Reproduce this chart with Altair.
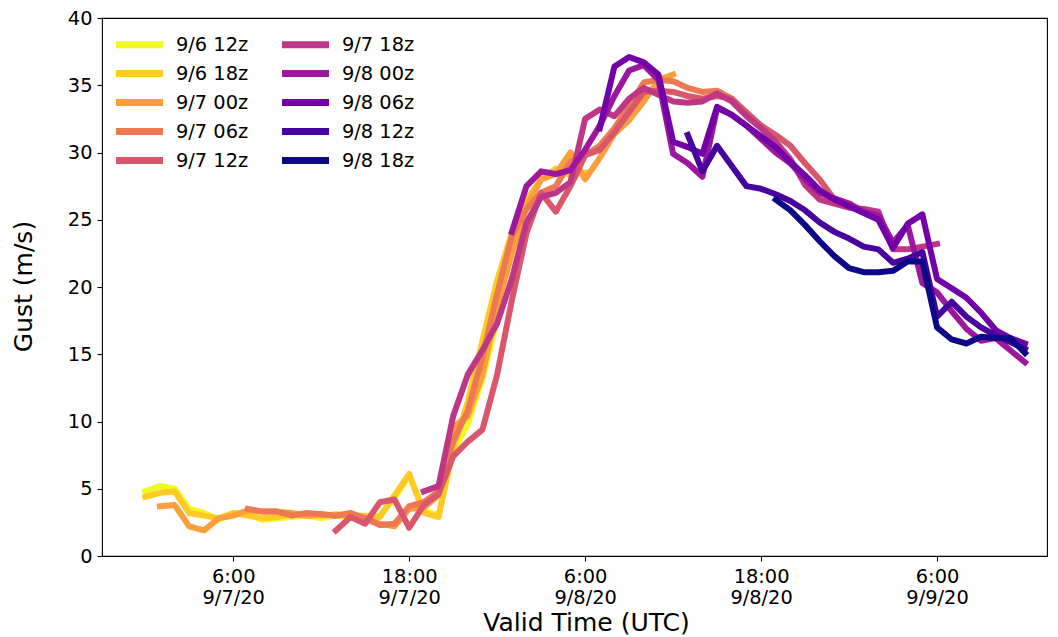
import altair as alt
import pandas as pd

# ---------------- data ----------------
runs = ["9/6 12z", "9/6 18z", "9/7 00z", "9/7 06z", "9/7 12z",
        "9/7 18z", "9/8 00z", "9/8 06z", "9/8 12z", "9/8 18z"]
colors = ["#f0f921", "#fdca26", "#fb9f3a", "#ed7953", "#d8576b",
          "#bd3786", "#9c179e", "#7201a8", "#46039f", "#0d0887"]
# first valid hour of each run (hours after 2020-09-07 00 UTC)
start_hours = [0, 0, 1, 7, 13, 19, 25, 31, 37, 43]

gust_0612 = [4.8, 5.2, 5.0, 3.5, 3.2, 2.7, 3.2, 3.1, 2.7, 2.8,
             2.9, 3.0, 2.8, 3.0, 2.9, 2.8, 3.0, 4.3, 6.0, 3.4,
             3.0, 7.8, 9.8, 13.2, 17.5]
gust_0618 = [4.4, 4.7, 4.8, 3.2, 3.0, 2.8, 3.2, 3.0, 2.8, 2.9,
             3.1, 3.0, 3.0, 3.1, 3.0, 3.0, 2.9, 4.5, 6.1, 3.2,
             2.9, 8.0, 11.5, 16.0, 20.5, 24.0, 26.5, 28.0, 28.8, 28.3,
             28.5]
gust_0700 = [3.7, 3.8, 2.2, 1.9, 2.8, 3.0, 3.4, 3.3, 3.3, 3.2,
             3.0, 3.1, 3.0, 3.1, 2.8, 2.4, 2.2, 3.5, 3.6, 4.5,
             9.6, 10.4, 13.5, 18.5, 22.5, 26.0, 28.0, 28.4, 30.0, 28.0,
             29.6, 31.4, 32.4, 33.8, 35.4, 35.8]
gust_0706 = [3.5, 3.3, 3.3, 3.0, 3.2, 3.1, 3.0, 3.2, 2.8, 2.3,
             2.4, 3.7, 4.0, 4.8, 8.5, 10.8, 14.8, 19.5, 23.8, 25.8,
             27.0, 27.5, 29.3, 29.8, 30.5, 31.8, 33.5, 35.2, 35.4, 35.3,
             34.8, 34.5, 34.6, 34.0, 32.8, 32.0]
gust_0712 = [1.9, 2.9, 2.4, 4.0, 4.2, 2.1, 3.8, 4.6, 7.4, 8.5,
             9.4, 13.5, 19.0, 24.0, 27.0, 25.6, 27.5, 29.8, 30.2, 31.5,
             33.0, 34.5, 34.6, 34.5, 34.2, 34.0, 34.2, 34.0, 33.0, 32.0,
             31.3, 30.5, 29.2, 28.0, 26.5, 26.2]
gust_0718 = [4.8, 5.2, 10.4, 13.5, 15.3, 17.3, 20.6, 24.8, 26.7, 27.0,
             27.8, 32.5, 33.2, 32.7, 34.0, 34.8, 34.3, 33.8, 33.7, 33.8,
             34.4, 33.8, 32.7, 31.8, 30.8, 29.5, 27.6, 26.5, 26.2, 25.9,
             25.8, 25.6, 22.8, 22.8, 23.0, 23.2]
gust_0800 = [24.1, 27.5, 28.6, 28.4, 28.7, 30.2, 32.0, 34.2, 36.1, 36.5,
             35.4, 29.9, 29.2, 28.2, 33.3, 32.8, 32.0, 31.0, 30.0, 29.2,
             28.0, 27.0, 26.6, 26.2, 25.6, 25.3, 23.3, 24.6, 20.3, 19.6,
             18.2, 16.9, 16.0, 16.2, 15.3, 14.4]
gust_0806 = [31.8, 36.4, 37.1, 36.7, 35.8, 30.8, 30.4, 29.9, 33.4, 32.8,
             32.0, 31.2, 30.4, 29.3, 28.3, 27.2, 26.5, 26.0, 25.5, 25.0,
             22.9, 24.7, 25.4, 20.6, 19.9, 19.2, 18.1, 16.8, 16.2, 15.8]
gust_0812 = [31.3, 28.6, 30.5, 29.0, 27.5, 27.3, 26.9, 26.4, 25.7, 24.8,
             24.1, 23.6, 23.0, 22.8, 21.8, 22.1, 22.6, 17.8, 18.9, 17.8,
             17.0, 16.4, 15.9, 15.4]
gust_0818 = [26.5, 25.7, 24.6, 23.4, 22.3, 21.4, 21.1, 21.1, 21.2, 21.9,
             21.9, 17.0, 16.1, 15.8, 16.3, 16.2, 16.2, 15.1]

series = [gust_0612, gust_0618, gust_0700, gust_0706, gust_0712,
          gust_0718, gust_0800, gust_0806, gust_0812, gust_0818]

tick_hours = [6, 18, 30, 42, 54]
tick_times = ["6:00", "18:00", "6:00", "18:00", "6:00"]
tick_dates = ["9/7/20", "9/7/20", "9/8/20", "9/8/20", "9/9/20"]

# ---------------- table ----------------
rows = []
for name, h0, vals in zip(runs, start_hours, series):
    for k, v in enumerate(vals):
        rows.append({"run": name, "hour": h0 + k, "gust": v})
df = pd.DataFrame(rows)

label_expr = " : ".join(
    f"datum.value == {h} ? ['{t}', '{d}']"
    for h, t, d in zip(tick_hours, tick_times, tick_dates)
) + " : ''"

FONT = "DejaVu Sans"

x_enc = alt.X(
    "hour:Q",
    scale=alt.Scale(domain=[-2.95, 61.5], nice=False, zero=False),
    axis=alt.Axis(
        values=tick_hours, labelExpr=label_expr, title="Valid Time (UTC)",
        grid=False, domain=False, ticks=True, tickSize=5, tickWidth=1.1,
        tickColor="black", labelColor="black", labelFont=FONT,
        labelFontSize=19.4, labelPadding=6, labelLineHeight=21,
        labelAngle=0, labelAlign="center", labelBaseline="top",
        titleFont=FONT, titleFontSize=25, titleFontWeight="normal",
        titleColor="black", titleX=484, titleY=74,
        titleBaseline="alphabetic", labelOverlap=False,
    ),
)
y_enc = alt.Y(
    "gust:Q",
    scale=alt.Scale(domain=[0, 40], nice=False),
    axis=alt.Axis(
        values=list(range(0, 41, 5)), title="Gust (m/s)", grid=False,
        domain=False, tickSize=5, tickWidth=1.1, tickColor="black",
        labelColor="black", labelFont=FONT, labelFontSize=19.4,
        labelPadding=5, titleFont=FONT, titleFontSize=25,
        titleFontWeight="normal", titleColor="black", titleX=-71,
        titleY=268, titleBaseline="alphabetic", titleAngle=-90,
        titleAlign="center",
    ),
)
c_enc = alt.Color(
    "run:N",
    scale=alt.Scale(domain=runs, range=colors),
    legend=alt.Legend(
        title=None, orient="none", legendX=24, legendY=13, columns=2,
        direction="vertical",
        symbolType="M-2.35,0H2.35", symbolSize=400, symbolStrokeWidth=7,
        labelFont=FONT, labelFontSize=19.4, labelColor="black",
        labelOffset=23, columnPadding=19, rowPadding=0, padding=0,
        labelLimit=300,
    ),
)

base = alt.Chart(df).encode(x=x_enc, y=y_enc, color=c_enc)
layers = [
    base.transform_filter(alt.datum.run == name).mark_line(
        strokeWidth=6, strokeCap="square", strokeJoin="round"
    )
    for name in runs
]

chart = (
    alt.layer(*layers)
    .properties(
        width=945, height=538,
        padding={"left": 102, "top": 18, "right": 11, "bottom": 81},
        autosize=alt.AutoSizeParams(type="none"),
        background="white",
    )
    .configure_view(stroke="black", strokeWidth=1.1)
)

chart.save("out.html", embed_options={"renderer": "svg", "actions": False})
